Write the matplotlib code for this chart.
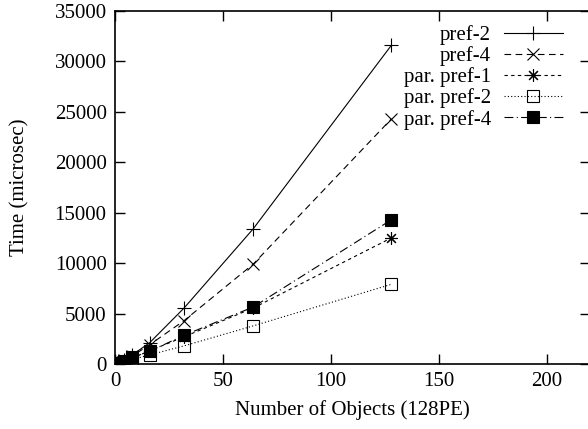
import numpy as np
import matplotlib
matplotlib.use('Agg')
import matplotlib.pyplot as plt

# Datos
objetos = [1, 2, 4, 8, 16, 32, 64, 128]
pref2 = [100, 200, 420, 900, 2100, 5550, 13400, 31600]
pref4 = [80, 170, 360, 800, 1900, 4300, 9900, 24300]
par_pref1 = [60, 130, 280, 600, 1300, 2700, 5550, 12500]
par_pref2 = [50, 100, 220, 450, 900, 1800, 3780, 7900]
par_pref4 = [60, 140, 300, 650, 1250, 2850, 5650, 14300]

plt.rcParams['font.family'] = ['Liberation Serif', 'DejaVu Serif']
plt.rcParams['font.size'] = 15

fig = plt.figure(figsize=(5.88, 4.29), dpi=100)
ax = fig.add_axes([115 / 588, 65 / 429, 475 / 588, 353 / 429])

lw = 0.8
ax.plot(objetos, pref2, color='black', lw=lw, ls='-', marker='+', ms=10, mew=lw, label='pref-2')
ax.plot(objetos, pref4, color='black', lw=lw, ls=(0, (6, 4)), marker='x', ms=9, mew=lw, label='pref-4')
ax.plot(objetos, par_pref1, color='black', lw=lw, ls=(0, (3, 3)), marker=(8, 2, 0), ms=9, mew=lw,
        label='par. pref-1')
ax.plot(objetos, par_pref2, color='black', lw=lw, ls=(0, (1, 2)), marker='s', ms=8, mew=lw,
        mfc='none', label='par. pref-2')
ax.plot(objetos, par_pref4, color='black', lw=lw, ls=(0, (8, 3, 1, 3)), marker='s', ms=8, mew=lw,
        mfc='black', label='par. pref-4')

ax.set_xlim(0, 220)
ax.set_ylim(0, 35000)
ax.set_xticks(np.arange(0, 201, 50))
ax.set_yticks(np.arange(0, 35001, 5000))
ax.tick_params(direction='in', length=7, width=1, top=True, right=True, pad=6)
for s in ax.spines.values():
    s.set_linewidth(1.2)

ax.set_xlabel('Number of Objects (128PE)', labelpad=6)
ax.set_ylabel('Time (microsec)', labelpad=18)

# leyenda estilo gnuplot: texto a la izquierda, alineado a la derecha
ax.legend(loc='upper right', bbox_to_anchor=(563 / 588, 1 - 25 / 429),
          bbox_transform=fig.transFigure, frameon=False, markerfirst=False,
          handlelength=2.85, handletextpad=0.6, labelspacing=0.06,
          borderpad=0, borderaxespad=0)

fig.savefig('out.png', dpi=100)
